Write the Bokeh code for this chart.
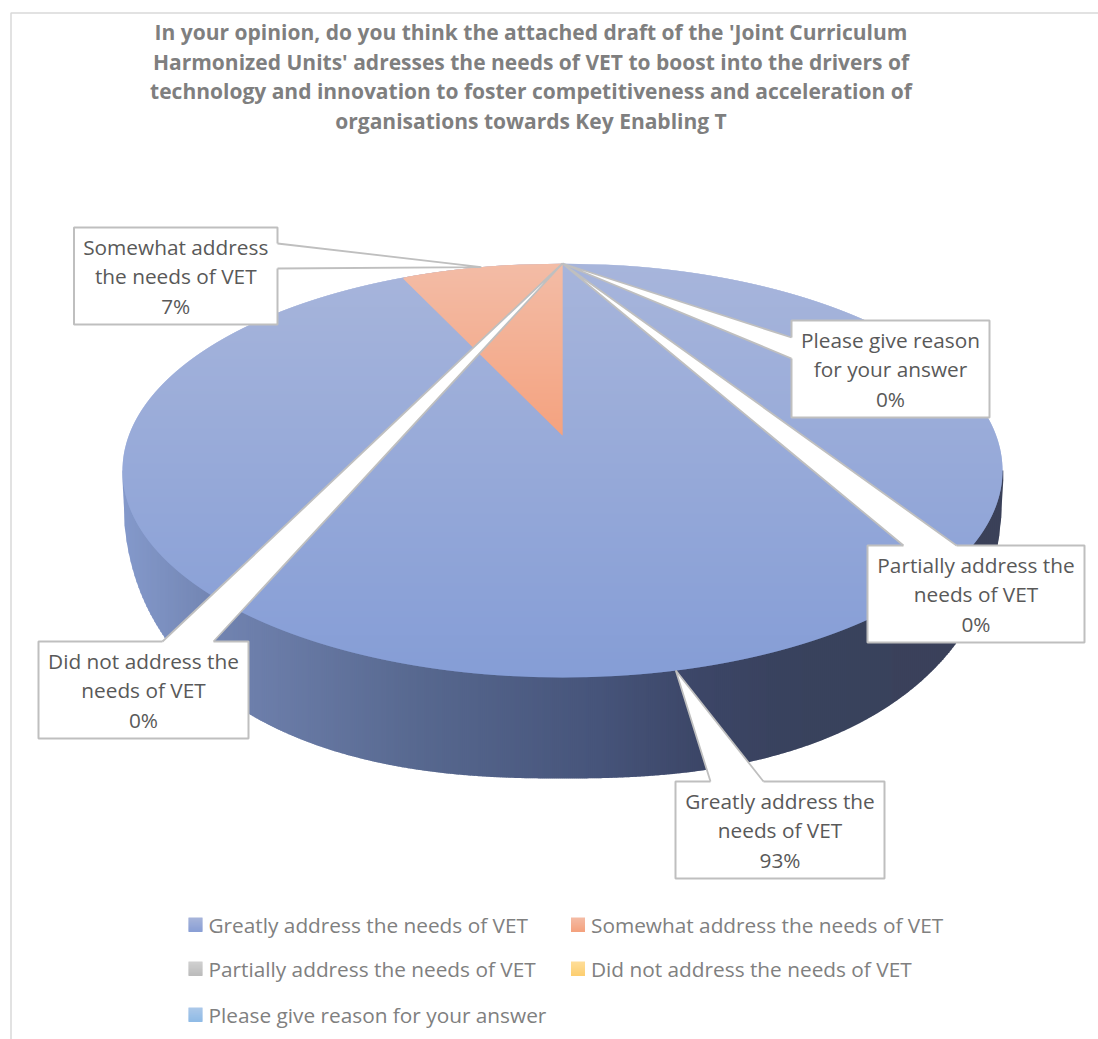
from bokeh.core.properties import value
from bokeh.embed import file_html
from bokeh.models import Range1d
from bokeh.plotting import figure
from bokeh.resources import INLINE
import numpy as np

TITLE_LINES = [
    "In your opinion, do you think the attached draft of the 'Joint Curriculum",
    "Harmonized Units' adresses the needs of VET to boost into the drivers of",
    "technology and innovation to foster competitiveness and acceleration of",
    "organisations towards Key Enabling T",
]
CATEGORIES = [
    "Greatly address the needs of VET",
    "Somewhat address the needs of VET",
    "Partially address the needs of VET",
    "Did not address the needs of VET",
    "Please give reason for your answer",
]
LABEL_LINES = [
    ["Greatly address the", "needs of VET"],
    ["Somewhat address", "the needs of VET"],
    ["Partially address the", "needs of VET"],
    ["Did not address the", "needs of VET"],
    ["Please give reason", "for your answer"],
]
SHARES = [0.93, 0.07, 0.0, 0.0, 0.0]

FONT = value("Open Sans")
W, H = 1098, 1039

# projected disc
CX, CY, RX, RY = 562.0, 470.0, 440.0, 207.0
HUB_LIFT = 0.169
# visible lower rim of the extruded side
RIM_CY, RIM_RY, RIM_N = 480.0, 298.0, 2.4


def hexrgb(c):
    return np.array([int(c[i:i + 2], 16) for i in (1, 3, 5)], dtype=float)


def ramp(t, stops):
    pos = [s[0] for s in stops]
    cols = np.array([hexrgb(s[1]) for s in stops])
    rgb = [np.interp(t, pos, cols[:, i]) for i in range(3)]
    return "#%02x%02x%02x" % tuple(int(round(v)) for v in rgb)


def disc_point(theta, radius=1.0):
    """Clockwise angle from 12 o'clock on the disc to page pixels, in perspective."""
    u, v = radius * np.sin(theta), radius * np.cos(theta)
    d = 1 + HUB_LIFT * v
    return (CX + RX * u * np.sqrt(1 - HUB_LIFT ** 2) / d,
            CY - RY * (v + HUB_LIFT) / d)


def half_width(y):
    t = np.clip((y - CY) / RY, -1, 1)
    return RX * np.sqrt(1 - t * t)


def rim_lower(x):
    t = np.clip(abs(x - CX) / RX, 0, 1)
    return RIM_CY + RIM_RY * (1 - t ** RIM_N) ** (1 / RIM_N)


p = figure(width=W, height=H, x_range=Range1d(0, W), y_range=Range1d(H, 0),
           output_backend="svg", toolbar_location=None, min_border=0,
           outline_line_color=None, background_fill_color="white")
p.axis.visible = False
p.grid.visible = False

# chart frame
p.line([10.5, 10.5, W], [H, 12.5, 12.5], line_color="#d9d9d9", line_width=1.5)

# extruded side, shaded left to right
SIDE_STOPS = [(122, "#8499cb"), (220, "#7183b0"), (420, "#57688f"),
              (600, "#46547a"), (700, "#3c4667"), (780, "#39425e"), (1002, "#3a4159")]
xs, ys, cols = [], [], []
for x in np.arange(CX - RX, CX + RX, 2.0):
    x2 = x + 2.8
    xs.append([x, x2, x2, x])
    ys.append([CY, CY, rim_lower(x2), rim_lower(x)])
    cols.append(ramp(x + 1, SIDE_STOPS))
p.patches(xs, ys, fill_color=cols, line_color=None)

# top face, shaded top to bottom
TOP_STOPS = [(CY - RY, "#a7b5db"), (CY + RY, "#859dd6")]
xs, ys, cols = [], [], []
for y in np.arange(CY - RY, CY + RY, 1.0):
    y2 = min(y + 1.7, CY + RY)
    a, b = half_width(y), half_width(y2)
    xs.append([CX - a, CX + a, CX + b, CX - b])
    ys.append([y, y, y2, y2])
    cols.append(ramp(y, TOP_STOPS))
p.patches(xs, ys, fill_color=cols, line_color=None)

# the second slice, running anticlockwise from 12 o'clock
end_x, end_y = disc_point(-2 * np.pi * SHARES[1])
hub_x, hub_y = disc_point(0.0, 0.0)
WEDGE_STOPS = [(CY - RY, "#f3bca6"), (hub_y, "#f4a27f")]


def wedge_left(y):
    if y <= end_y:
        return CX - half_width(y)
    return end_x + (hub_x - end_x) * (y - end_y) / (hub_y - end_y)


xs, ys, cols = [], [], []
for y in np.arange(CY - RY, hub_y, 1.0):
    y2 = min(y + 1.7, hub_y)
    xs.append([wedge_left(y), CX, CX, wedge_left(y2)])
    ys.append([y, y, y2, y2])
    cols.append(ramp(y, WEDGE_STOPS))
p.patches(xs, ys, fill_color=cols, line_color=None)

# data labels with callout leaders: box corners, leader base on the box edge
BOX_H = 97
BOXES = [
    dict(x0=675, x1=884, y0=781, base=[(710, 781), (763, 781)]),
    dict(x0=73.5, x1=277, y0=227, base=[(277, 243), (277, 268)]),
    dict(x0=867, x1=1084, y0=545, base=[(903, 545), (956, 545)]),
    dict(x0=38, x1=248, y0=641, base=[(162, 641), (213, 641)]),
    dict(x0=791, x1=989, y0=320, base=[(791, 337), (791, 358)]),
]

# leaders aim at each slice's middle; the shares close the circle at 12 o'clock,
# so the empty slices all land on that seam
edges = np.cumsum(SHARES)
mids = edges - np.array(SHARES) / 2
tip_xy = [disc_point(2 * np.pi * m) for m in mids]

LINE_GAP = 29.5
for box, lines, share, (tx, ty) in zip(BOXES, LABEL_LINES, SHARES, tip_xy):
    x0, x1, y0 = box["x0"], box["x1"], box["y0"]
    y1 = y0 + BOX_H
    p.quad(left=[x0], right=[x1], top=[y0], bottom=[y1], fill_color="white",
           line_color="#bfbfbf", line_width=2)
    (ax, ay), (bx, by) = box["base"]
    inx = 2.5 if ax == bx and ax == x0 else (-2.5 if ax == bx else 0)
    iny = 2.5 if ay == by else 0
    p.patch([tx, ax, ax + inx, bx + inx, bx],
            [ty, ay, ay + iny, by + iny, by],
            fill_color="white", line_color=None)
    p.multi_line([[ax, tx, bx]], [[ay, ty, by]], line_color="#bfbfbf", line_width=1.8)
    mid_x = (x0 + x1) / 2
    texts = lines + [f"{round(share * 100)}%"]
    for k, t in enumerate(texts):
        p.text([mid_x], [y0 + 19 + k * LINE_GAP], text=[t], text_font=FONT,
               text_font_size="20.8px", text_color="#595959",
               text_align="center", text_baseline="middle")

# title
for k, t in enumerate(TITLE_LINES):
    p.text([530.5], [31.5 + k * 29.7], text=[t], text_font=FONT, text_font_style="bold",
           text_font_size="21px", text_color="#7f7f7f",
           text_align="center", text_baseline="middle")

# legend
SWATCHES = [("#a6b4da", "#8a9fd5"), ("#f4bba4", "#f4a27f"), ("#d0d0d0", "#bcbcbc"),
            ("#fedd98", "#fdcf72"), ("#abc8e9", "#90bbe6")]
LEGEND_POS = [(188, 924), (570.5, 924), (188, 968), (570.5, 968), (188, 1014)]
for name, (c0, c1), (lx, ly) in zip(CATEGORIES, SWATCHES, LEGEND_POS):
    for j in range(14):
        p.quad(left=[lx], right=[lx + 14], top=[ly - 7 + j], bottom=[ly - 7 + j + 1.5],
               fill_color=ramp(j, [(0, c0), (13, c1)]), line_color=None)
    p.text([lx + 20], [ly], text=[name], text_font=FONT, text_font_size="20.8px",
           text_color="#808080", text_align="left", text_baseline="middle")

open("out.html", "w").write(file_html(p, INLINE))
